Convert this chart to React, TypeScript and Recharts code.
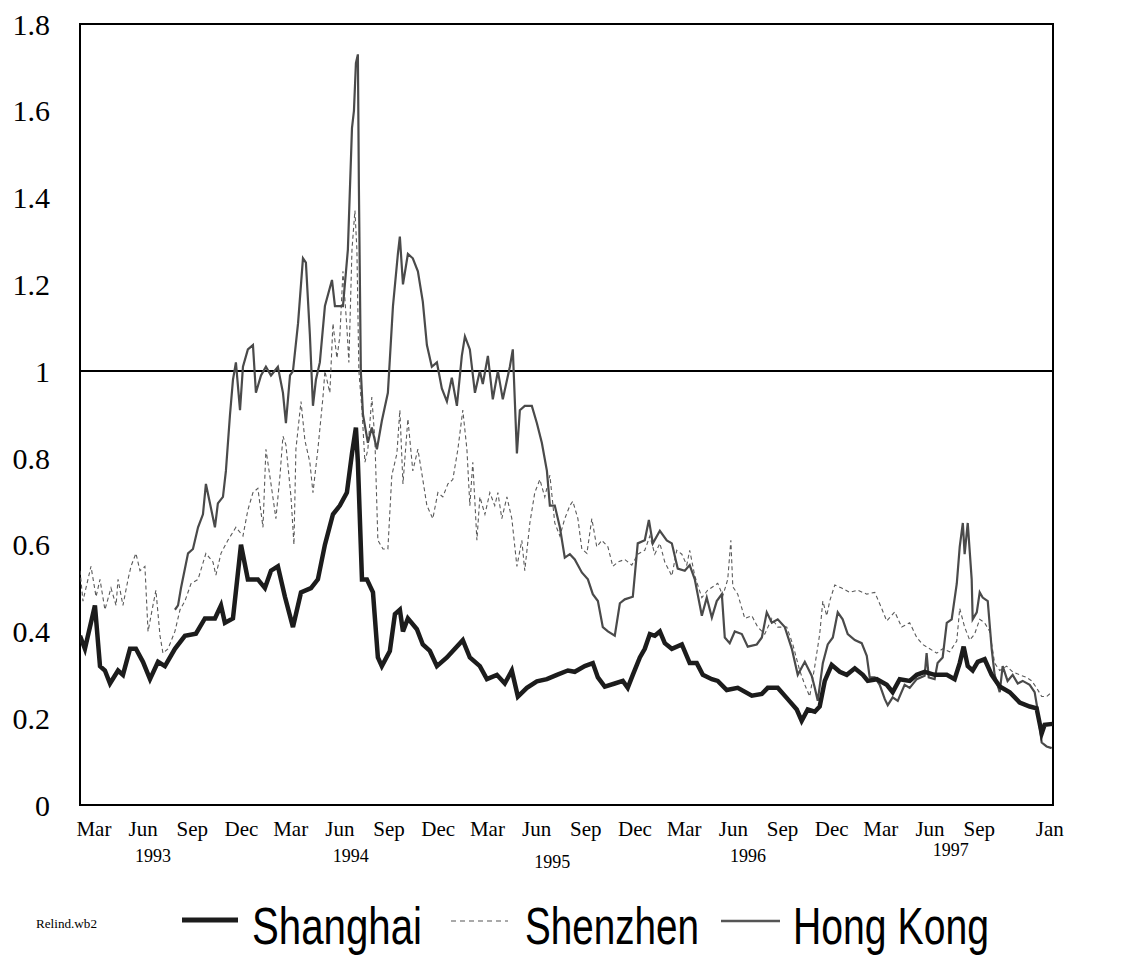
import { LineChart, Line, XAxis, YAxis, ReferenceLine, ReferenceArea } from "recharts"

// x values are months on the chart's time axis (Mar 1993 = 1, Jan 1998 ≈ 59.3)
const monthTicks = [1, 4, 7, 10, 13, 16, 19, 22, 25, 28, 31, 34, 37, 40, 43, 46, 49, 52, 55, 59.3]
const monthLabels = ["Mar", "Jun", "Sep", "Dec", "Mar", "Jun", "Sep", "Dec", "Mar", "Jun", "Sep", "Dec", "Mar", "Jun", "Sep", "Dec", "Mar", "Jun", "Sep", "Jan"]
const yearTicks = [4.6, 16.66, 28.95, 40.9, 53.26]
const yearLabels = ["1993", "1994", "1995", "1996", "1997"]
const yearShift = [0, 0, 6, 0, -6]
const valueTicks = [0, 0.2, 0.4, 0.6, 0.8, 1, 1.2, 1.4, 1.6, 1.8]

const shanghai: [number, number][] = [
  [0.15, 0.39], [0.45, 0.36], [1.06, 0.46], [1.37, 0.32], [1.67, 0.31], [1.98, 0.28], [2.47, 0.31], [2.77, 0.3],
  [3.2, 0.36], [3.56, 0.36], [3.99, 0.33], [4.42, 0.29], [4.91, 0.33], [5.33, 0.32], [5.94, 0.36], [6.55, 0.39],
  [7.22, 0.395], [7.77, 0.43], [8.38, 0.43], [8.75, 0.46], [8.99, 0.42], [9.48, 0.43], [9.97, 0.6], [10.39, 0.52],
  [11.0, 0.52], [11.43, 0.5], [11.8, 0.54], [12.22, 0.55], [12.65, 0.48], [13.14, 0.41], [13.63, 0.49], [14.24, 0.5],
  [14.66, 0.52], [15.09, 0.6], [15.58, 0.67], [16.0, 0.69], [16.43, 0.72], [16.74, 0.81], [16.98, 0.87], [17.1, 0.79],
  [17.35, 0.52], [17.65, 0.52], [18.02, 0.49], [18.32, 0.34], [18.56, 0.32], [19.05, 0.355], [19.36, 0.44], [19.66, 0.45],
  [19.85, 0.4], [20.15, 0.43], [20.7, 0.405], [21.06, 0.37], [21.49, 0.355], [21.92, 0.32], [22.53, 0.34], [22.89, 0.355],
  [23.5, 0.38], [23.93, 0.34], [24.54, 0.32], [24.97, 0.29], [25.58, 0.3], [26.06, 0.28], [26.49, 0.31], [26.86, 0.25],
  [27.41, 0.27], [28.02, 0.285], [28.63, 0.29], [29.24, 0.3], [29.91, 0.31], [30.33, 0.307], [30.94, 0.32], [31.43, 0.327],
  [31.74, 0.294], [32.16, 0.273], [32.77, 0.28], [33.26, 0.286], [33.56, 0.27], [33.87, 0.3], [34.3, 0.34], [34.6, 0.36],
  [34.91, 0.394], [35.21, 0.39], [35.52, 0.4], [35.82, 0.373], [36.25, 0.36], [36.86, 0.37], [37.34, 0.327], [37.77, 0.327],
  [38.14, 0.3], [38.69, 0.29], [39.05, 0.286], [39.6, 0.265], [40.27, 0.27], [41.13, 0.252], [41.74, 0.256], [42.1, 0.27],
  [42.71, 0.27], [43.32, 0.244], [43.87, 0.22], [44.17, 0.194], [44.54, 0.22], [44.97, 0.215], [45.27, 0.227], [45.58, 0.286],
  [46.0, 0.323], [46.49, 0.307], [46.92, 0.3], [47.41, 0.315], [47.9, 0.3], [48.2, 0.286], [48.75, 0.29], [49.36, 0.277],
  [49.72, 0.26], [50.15, 0.29], [50.76, 0.286], [51.19, 0.3], [51.67, 0.307], [52.28, 0.3], [53.02, 0.3], [53.5, 0.29],
  [53.81, 0.327], [54.05, 0.365], [54.3, 0.32], [54.6, 0.31], [54.91, 0.33], [55.33, 0.336], [55.76, 0.3], [56.25, 0.273],
  [56.86, 0.26], [57.47, 0.236], [58.08, 0.227], [58.5, 0.223], [58.81, 0.165], [58.99, 0.185], [59.48, 0.187],
]

const shenzhen: [number, number][] = [
  [0.15, 0.54], [0.33, 0.47], [0.82, 0.55], [1.13, 0.48], [1.37, 0.52], [1.67, 0.45], [2.04, 0.5], [2.35, 0.46],
  [2.47, 0.52], [2.77, 0.46], [3.08, 0.52], [3.26, 0.55], [3.56, 0.58], [3.81, 0.54], [4.11, 0.55], [4.3, 0.4],
  [4.6, 0.46], [4.78, 0.495], [5.03, 0.39], [5.21, 0.35], [5.52, 0.36], [5.94, 0.4], [6.25, 0.45], [6.55, 0.47],
  [6.92, 0.51], [7.35, 0.52], [7.83, 0.58], [8.26, 0.56], [8.44, 0.53], [8.75, 0.58], [9.17, 0.61], [9.66, 0.64],
  [10.09, 0.62], [10.39, 0.68], [10.7, 0.72], [11.0, 0.73], [11.31, 0.64], [11.49, 0.82], [11.8, 0.74], [12.1, 0.66],
  [12.35, 0.76], [12.53, 0.85], [12.71, 0.83], [13.02, 0.71], [13.2, 0.6], [13.32, 0.82], [13.63, 0.93], [13.87, 0.84],
  [14.17, 0.79], [14.36, 0.72], [14.66, 0.82], [14.97, 0.94], [15.09, 1.0], [15.39, 0.95], [15.58, 1.11], [15.82, 1.03],
  [16.0, 1.08], [16.19, 1.23], [16.43, 1.1], [16.55, 1.02], [16.74, 1.28], [16.92, 1.37], [17.04, 1.28], [17.16, 1.0],
  [17.35, 0.91], [17.53, 0.79], [17.71, 0.82], [17.95, 0.94], [18.14, 0.84], [18.32, 0.61], [18.63, 0.59], [18.93, 0.59],
  [19.17, 0.76], [19.48, 0.81], [19.66, 0.91], [19.85, 0.74], [20.15, 0.89], [20.45, 0.77], [20.76, 0.82], [21.06, 0.75],
  [21.31, 0.69], [21.67, 0.66], [21.98, 0.72], [22.28, 0.71], [22.59, 0.74], [22.89, 0.75], [23.2, 0.82], [23.5, 0.91],
  [23.75, 0.82], [23.93, 0.69], [24.11, 0.79], [24.36, 0.61], [24.54, 0.71], [24.85, 0.67], [25.15, 0.72], [25.45, 0.69],
  [25.64, 0.72], [25.88, 0.66], [26.19, 0.71], [26.49, 0.66], [26.8, 0.55], [27.1, 0.61], [27.28, 0.54], [27.59, 0.65],
  [27.89, 0.72], [28.2, 0.75], [28.5, 0.71], [28.81, 0.76], [29.11, 0.65], [29.42, 0.62], [29.72, 0.66], [30.03, 0.69],
  [30.21, 0.7], [30.52, 0.66], [30.76, 0.59], [31.07, 0.58], [31.37, 0.66], [31.67, 0.595], [31.98, 0.61], [32.35, 0.595],
  [32.65, 0.55], [32.96, 0.56], [33.38, 0.566], [33.81, 0.553], [34.17, 0.578], [34.6, 0.587], [34.91, 0.62], [35.21, 0.578],
  [35.52, 0.603], [35.82, 0.56], [36.25, 0.528], [36.55, 0.587], [36.86, 0.578], [37.16, 0.553], [37.34, 0.587], [37.65, 0.528],
  [38.08, 0.478], [38.44, 0.495], [38.75, 0.503], [39.05, 0.511], [39.36, 0.482], [39.66, 0.52], [39.85, 0.61], [39.97, 0.503],
  [40.27, 0.486], [40.7, 0.43], [41.13, 0.436], [41.49, 0.41], [41.92, 0.394], [42.35, 0.43], [42.71, 0.41], [43.26, 0.41],
  [43.63, 0.37], [44.05, 0.31], [44.36, 0.277], [44.66, 0.25], [44.97, 0.32], [45.27, 0.394], [45.46, 0.47], [45.7, 0.436],
  [45.88, 0.47], [46.19, 0.507], [46.61, 0.5], [47.1, 0.49], [47.59, 0.495], [48.14, 0.486], [48.63, 0.49], [49.05, 0.453],
  [49.36, 0.424], [49.85, 0.445], [50.27, 0.41], [50.76, 0.42], [51.19, 0.386], [51.55, 0.37], [51.98, 0.36], [52.41, 0.35],
  [52.77, 0.36], [53.2, 0.353], [53.63, 0.378], [53.81, 0.453], [54.11, 0.41], [54.42, 0.38], [54.72, 0.394], [55.03, 0.428],
  [55.33, 0.42], [55.64, 0.4], [55.94, 0.327], [56.25, 0.31], [56.67, 0.32], [57.04, 0.307], [57.47, 0.3], [57.89, 0.294],
  [58.2, 0.286], [58.5, 0.27], [58.81, 0.25], [59.11, 0.25], [59.42, 0.26],
]

const hongKong: [number, number][] = [
  [5.94, 0.45], [6.13, 0.46], [6.31, 0.5], [6.74, 0.58], [7.04, 0.59], [7.35, 0.64], [7.65, 0.67], [7.83, 0.74],
  [8.08, 0.695], [8.38, 0.64], [8.56, 0.695], [8.87, 0.71], [9.05, 0.77], [9.3, 0.9], [9.48, 0.98], [9.66, 1.02],
  [9.91, 0.91], [10.09, 1.01], [10.39, 1.05], [10.7, 1.06], [10.88, 0.95], [11.19, 0.99], [11.49, 1.01], [11.8, 0.99],
  [12.22, 1.01], [12.53, 0.95], [12.71, 0.88], [12.96, 0.99], [13.14, 1.0], [13.45, 1.11], [13.75, 1.26], [13.93, 1.25],
  [14.17, 1.085], [14.36, 0.92], [14.54, 0.98], [14.78, 1.02], [15.09, 1.15], [15.52, 1.21], [15.7, 1.15], [16.19, 1.15],
  [16.49, 1.28], [16.74, 1.56], [16.86, 1.6], [16.98, 1.71], [17.1, 1.73], [17.16, 1.43], [17.28, 1.0], [17.41, 0.9],
  [17.71, 0.835], [17.95, 0.87], [18.26, 0.82], [18.56, 0.885], [18.93, 0.95], [19.24, 1.15], [19.54, 1.27], [19.66, 1.31],
  [19.85, 1.2], [20.15, 1.27], [20.45, 1.26], [20.76, 1.23], [21.06, 1.16], [21.31, 1.06], [21.61, 1.01], [21.92, 1.02],
  [22.22, 0.96], [22.53, 0.93], [22.83, 0.985], [23.14, 0.92], [23.44, 1.035], [23.63, 1.08], [23.93, 1.05], [24.24, 0.95],
  [24.54, 1.0], [24.72, 0.97], [25.03, 1.035], [25.33, 0.935], [25.64, 1.0], [25.94, 0.935], [26.37, 1.01], [26.55, 1.05],
  [26.8, 0.81], [26.98, 0.91], [27.28, 0.92], [27.71, 0.92], [28.02, 0.88], [28.32, 0.835], [28.63, 0.77], [28.81, 0.69],
  [29.11, 0.69], [29.42, 0.64], [29.72, 0.57], [30.03, 0.578], [30.33, 0.566], [30.76, 0.536], [31.13, 0.52], [31.43, 0.486],
  [31.74, 0.47], [32.04, 0.41], [32.35, 0.4], [32.77, 0.39], [33.08, 0.465], [33.38, 0.474], [33.87, 0.48], [34.17, 0.603],
  [34.6, 0.61], [34.85, 0.657], [35.09, 0.603], [35.52, 0.632], [35.94, 0.61], [36.25, 0.603], [36.61, 0.545], [37.04, 0.54],
  [37.34, 0.553], [37.65, 0.52], [38.08, 0.436], [38.38, 0.478], [38.69, 0.432], [38.99, 0.47], [39.3, 0.486], [39.48, 0.386],
  [39.78, 0.373], [40.09, 0.4], [40.52, 0.394], [40.88, 0.365], [41.43, 0.37], [41.74, 0.386], [42.04, 0.444], [42.35, 0.42],
  [42.71, 0.428], [43.14, 0.41], [43.57, 0.36], [43.93, 0.3], [44.36, 0.33], [44.78, 0.298], [44.97, 0.27], [45.15, 0.24],
  [45.46, 0.327], [45.76, 0.37], [46.07, 0.386], [46.37, 0.444], [46.67, 0.428], [46.98, 0.394], [47.41, 0.38], [47.83, 0.373],
  [48.14, 0.344], [48.32, 0.294], [48.63, 0.294], [48.93, 0.277], [49.24, 0.244], [49.42, 0.23], [49.72, 0.248], [50.03, 0.24],
  [50.45, 0.277], [50.76, 0.27], [51.19, 0.29], [51.67, 0.298], [51.79, 0.35], [51.92, 0.294], [52.28, 0.29], [52.46, 0.327],
  [52.77, 0.34], [53.02, 0.42], [53.32, 0.428], [53.63, 0.51], [53.81, 0.595], [54.0, 0.65], [54.11, 0.578], [54.3, 0.65],
  [54.54, 0.52], [54.6, 0.428], [54.85, 0.444], [55.03, 0.49], [55.21, 0.478], [55.52, 0.47], [55.76, 0.36], [55.94, 0.3],
  [56.25, 0.26], [56.43, 0.32], [56.73, 0.286], [57.04, 0.3], [57.35, 0.28], [57.65, 0.286], [58.08, 0.277], [58.38, 0.26],
  [58.56, 0.22], [58.81, 0.144], [59.11, 0.135], [59.42, 0.131],
]

const toRows = (pts: [number, number][]) => pts.map(([m, v]) => ({ m, v }))
const allTicks = [...monthTicks, ...yearTicks].sort((a, b) => a - b)

const serif = '"Liberation Serif", "Times New Roman", serif'
const narrow = '"Liberation Sans Narrow", "Liberation Sans", Arial, sans-serif'

// one axis carries both rows: month names right under the frame, years below them
function DateTick({ x, y, payload }: any) {
  const mi = monthTicks.indexOf(payload.value)
  if (mi >= 0) {
    return (
      <text x={x} y={y + 24} textAnchor="middle" dominantBaseline="central" fontFamily={serif} fontSize={21} fill="#000">
        {monthLabels[mi]}
      </text>
    )
  }
  const yi = yearTicks.indexOf(payload.value)
  return (
    <text x={x} y={y + 51 + yearShift[yi]} textAnchor="middle" dominantBaseline="central" fontFamily={serif} fontSize={18} fill="#000">
      {yearLabels[yi]}
    </text>
  )
}

const fmt = (v: number) => String(Number(v.toFixed(1)))

function LegendBlock() {
  return (
    <svg width={1125} height={957} style={{ position: "absolute", left: 0, top: 0, pointerEvents: "none" }}>
      <text x={36} y={928} fontFamily={serif} fontSize={12} textLength={61} lengthAdjust="spacingAndGlyphs" fill="#000">
        Relind.wb2
      </text>
      <line x1={182} x2={238} y1={920} y2={920} stroke="#1c1c1c" strokeWidth={5} />
      <text x={252} y={944} fontFamily={narrow} fontSize={52} textLength={170} lengthAdjust="spacingAndGlyphs" fill="#000">
        Shanghai
      </text>
      <line x1={451} x2={508} y1={921} y2={921} stroke="#555" strokeWidth={1.2} strokeDasharray="5 4" />
      <text x={525} y={944} fontFamily={narrow} fontSize={52} textLength={174} lengthAdjust="spacingAndGlyphs" fill="#000">
        Shenzhen
      </text>
      <line x1={721} x2={780} y1={921} y2={921} stroke="#555" strokeWidth={2.5} />
      <text x={793} y={944} fontFamily={narrow} fontSize={52} textLength={196} lengthAdjust="spacingAndGlyphs" fill="#000">
        Hong Kong
      </text>
    </svg>
  )
}

export default function App() {
  return (
    <div style={{ position: "absolute", left: 0, top: 0, width: 1125, height: 957, background: "#fff" }}>
      <LineChart width={1125} height={957} margin={{ top: 24, right: 0, bottom: 151, left: 0 }}>
        <XAxis
          xAxisId="month"
          type="number"
          dataKey="m"
          domain={[0.15, 59.5]}
          ticks={allTicks}
          interval={0}
          height={1}
          tickSize={0}
          tickMargin={0}
          axisLine={false}
          tickLine={false}
          tick={<DateTick />}
          allowDataOverflow
        />
        <YAxis
          yAxisId="left"
          domain={[0, 1.8]}
          ticks={valueTicks}
          interval={0}
          width={80}
          tickSize={0}
          tickMargin={30}
          axisLine={false}
          tickLine={false}
          tickFormatter={fmt}
          tick={{ fontSize: 30, fill: "#000", fontFamily: serif }}
        />
        <YAxis
          yAxisId="right"
          orientation="right"
          domain={[0, 1.8]}
          ticks={valueTicks}
          interval={0}
          width={72}
          tickSize={0}
          tickMargin={21}
          axisLine={false}
          tickLine={false}
          tickFormatter={fmt}
          tick={{ fontSize: 30, fill: "#000", fontFamily: serif, textAnchor: "start" }}
        />
        <ReferenceArea xAxisId="month" yAxisId="left" x1={0.15} x2={59.5} y1={0} y2={1.8} fill="none" stroke="#000" strokeWidth={2} ifOverflow="visible" />
        <ReferenceLine xAxisId="month" yAxisId="left" y={1} stroke="#000" strokeWidth={2} />
        <Line xAxisId="month" yAxisId="left" data={toRows(shenzhen)} dataKey="v" type="linear" stroke="#5a5a5a" strokeWidth={1.1} strokeDasharray="4 3" dot={false} isAnimationActive={false} />
        <Line xAxisId="month" yAxisId="left" data={toRows(hongKong)} dataKey="v" type="linear" stroke="#4a4a4a" strokeWidth={2.2} dot={false} isAnimationActive={false} />
        <Line xAxisId="month" yAxisId="left" data={toRows(shanghai)} dataKey="v" type="linear" stroke="#1c1c1c" strokeWidth={4.5} dot={false} isAnimationActive={false} />
      </LineChart>
      <LegendBlock />
    </div>
  )
}
